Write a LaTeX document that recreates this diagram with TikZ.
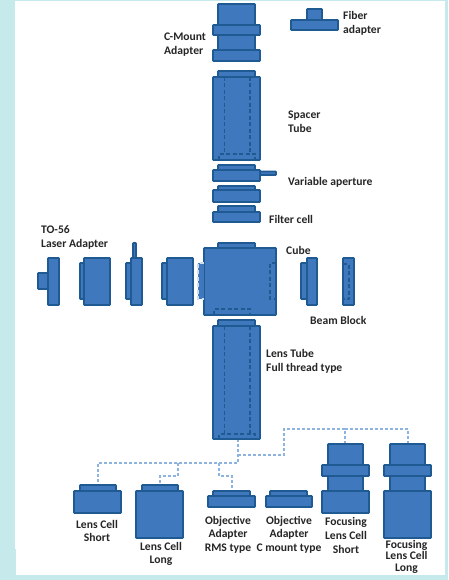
\documentclass[tikz,border=0pt]{standalone}
\usepackage{fontspec}
\setmainfont{Carlito}
\definecolor{bgc}{HTML}{C6EAEB}
\definecolor{partf}{HTML}{3F78BC}
\definecolor{parte}{HTML}{1F5A92}
\definecolor{conn}{HTML}{8DB4E0}
\tikzset{
  part/.style={draw=parte,fill=partf,line width=1.6pt,rounded corners=0.5pt},
  hidden/.style={draw=parte,line width=1.4pt,dash pattern=on 4pt off 2.5pt},
  hiddenw/.style={draw=partf!25!white,line width=1.4pt,dash pattern=on 4pt off 2.5pt},
  link/.style={draw=conn,line width=1.2pt,dash pattern=on 3pt off 2pt},
  lab/.style={font=\bfseries\fontsize{11.6}{14}\selectfont,text=black!85,inner sep=0pt,align=left,anchor=west},
  labc/.style={font=\bfseries\fontsize{11.6}{14}\selectfont,text=black!85,inner sep=0pt,align=center,anchor=north}
}
\newcommand{\bx}[4]{\path[part] (#1,#2) rectangle (#3,#4);}
\begin{document}
\begin{tikzpicture}[x=1pt,y=-1pt]
\useasboundingbox (0,0) rectangle (448,580);
\fill[bgc] (0,0) rectangle (448,580);
\fill[white] (15,1) rectangle (445,549);
\fill[white] (16,549) rectangle (445,575);
% connectors
\coordinate (lt) at (238,439);
\coordinate (j1) at (238,463);
\coordinate (j2) at (238,455);
\coordinate (j3) at (345,429);
\coordinate (fs) at (345,444);
\coordinate (fl) at (408,444);
\coordinate (ls) at (98,485);
\coordinate (ll) at (160,485);
\coordinate (oa) at (232,491);
\draw[link] (lt) -- (j1) -- (98,463) -- (ls);
\draw[link] (j2) -- (284,455) -- (284,429) -- (j3) -- (fs);
\draw[link] (j3) -- (408,429) -- (fl);
\draw[link] (178,463) -- (178,476) -- (160,476) -- (ll);
\draw[link] (219,463) -- (219,476) -- (232,476) -- (oa);
% C-mount
\bx{218}{4}{255}{25}\bx{218}{35}{255}{50}\bx{213}{25}{260}{35}\bx{213}{50}{260}{61}
% Fiber
\bx{307}{9}{322}{20}\bx{291}{20}{338}{30}
% Spacer
\bx{218}{71}{255}{77}\bx{213}{77}{260}{160}
\draw[hidden] (224.5,77) -- (224.5,154) (250,77) -- (250,154);
\draw[hidden] (219,160) -- (219,154) -- (255,154) -- (255,160);
% Aperture
\bx{260}{171.5}{276}{175}\bx{218}{165}{255}{170}\bx{213}{170}{260}{181}
% Filter
\bx{218}{186}{255}{190}\bx{213}{190}{260}{202}
\bx{218}{206}{255}{212}\bx{213}{212}{260}{222}
% Cube
\bx{218}{243}{255}{248}\bx{204}{248}{276}{315}
\draw[hidden] (276,263) -- (270,263) -- (270,299) -- (276,299);
\draw[hidden] (214,315) -- (214,309) -- (250,309) -- (250,315);
\path[fill=partf] (198,263) rectangle (204,299);
\draw[hiddenw] (204,263) -- (198,263) -- (198,299) -- (204,299);
% Left row
\bx{38}{273}{48}{289}\bx{48}{258}{59}{305}
\bx{80}{263}{84}{299}\bx{84}{258}{110}{305}
\bx{133}{243}{136}{258}\bx{126}{263}{131}{299}\bx{131}{258}{142}{305}
\bx{162}{263}{167}{299}\bx{167}{258}{193}{305}
% Right row
\bx{301}{263}{307}{299}\bx{307}{258}{317}{305}
\bx{343}{258}{354}{305}
\draw[hidden] (343,264) -- (349,264) -- (349,299) -- (343,299);
% Lens tube
\bx{218}{320}{255}{326}\bx{213}{326}{260}{439}
\draw[hidden] (224.5,326) -- (224.5,434) (250,326) -- (250,434);
\draw[hidden] (219,439) -- (219,434) -- (255,434) -- (255,439);
% Bottom parts
\bx{80}{485}{116}{491}\bx{74}{491}{121}{513}
\bx{142}{485}{178}{491}\bx{136}{491}{183}{538}
\bx{213}{491}{250}{496}\bx{208}{496}{255}{507}
\bx{270}{491}{307}{496}\bx{266}{496}{312}{507}
\bx{328}{444}{363}{465}\bx{328}{476}{363}{491}\bx{322}{465}{369}{476}\bx{322}{491}{369}{513}
\bx{390}{444}{425}{465}\bx{390}{476}{425}{491}\bx{384}{465}{431}{476}\bx{384}{491}{431}{538}
% Labels
\node[lab,anchor=north west] (t1) at (164,33) {C-Mount\\Adapter};
\node[lab,anchor=north west] (t2) at (343,11) {Fiber\\adapter};
\node[lab,anchor=north west] (t3) at (288,110.5) {Spacer\\Tube};
\node[lab] (t4) at (288,182) {Variable aperture};
\node[lab] (t5) at (269,219) {Filter cell};
\node[lab,anchor=north west] (t6) at (41,225.5) {TO-56\\Laser Adapter};
\node[lab] (t7) at (286,250.5) {Cube};
\node[lab] (t8) at (310,320.5) {Beam Block};
\node[lab,anchor=north west,font=\bfseries\fontsize{11.6}{13.5}\selectfont] (t9) at (266,349.5) {Lens Tube\\Full thread type};
\node[labc,font=\bfseries\fontsize{11.6}{13}\selectfont] (t10) at (97,520) {Lens Cell\\Short};
\node[labc,font=\bfseries\fontsize{11.6}{13}\selectfont] (t11) at (161,542.5) {Lens Cell\\Long};
\node[labc,font=\bfseries\fontsize{11.6}{13.5}\selectfont] (t12) at (228,516) {Objective\\Adapter\\RMS type};
\node[labc,font=\bfseries\fontsize{11.6}{13.5}\selectfont] (t13) at (289,516) {Objective\\Adapter\\C mount type};
\node[labc] (t14) at (346,517) {Focusing\\Lens Cell\\Short};
\node[labc,font=\bfseries\fontsize{11.6}{11.5}\selectfont] (t15) at (406.5,540) {Focusing\\Lens Cell\\Long};
\end{tikzpicture}
\end{document}
